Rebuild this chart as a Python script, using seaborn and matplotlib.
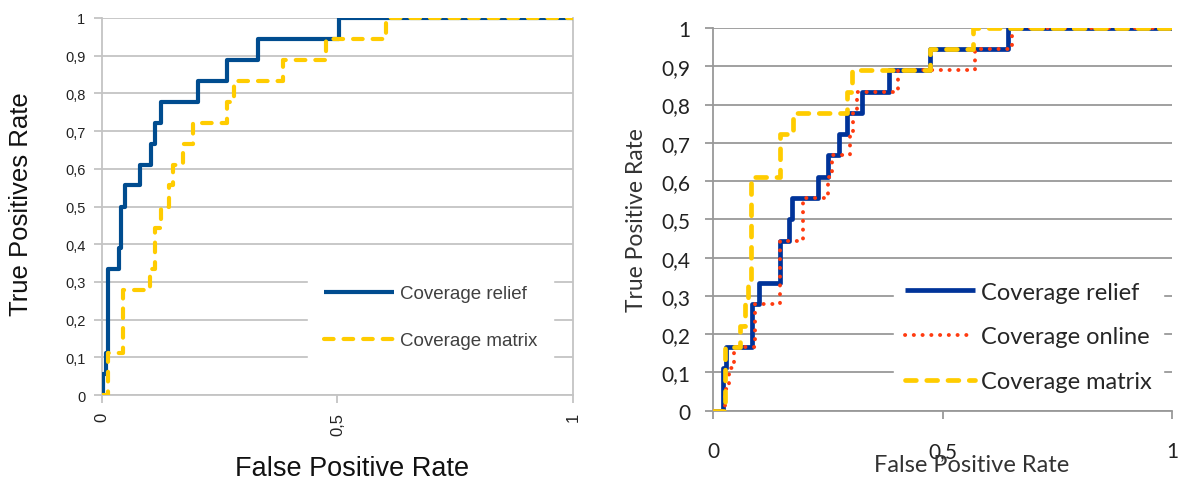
import numpy as np
import pandas as pd
import matplotlib
matplotlib.use('Agg')
import matplotlib.pyplot as plt
import seaborn as sns
from matplotlib.ticker import FuncFormatter

# ==========================================
# 0. データ（図から読み取った ROC 曲線の角の座標）
# ==========================================
# 左: Coverage relief / Coverage matrix
left_relief_fpr = [0, 0.003, 0.008, 0.013, 0.037, 0.040, 0.049, 0.081, 0.105,
                   0.113, 0.125, 0.205, 0.265, 0.332, 0.504, 1.0]
left_relief_tpr = [0, 0.056, 0.111, 0.333, 0.389, 0.500, 0.556, 0.611, 0.667,
                   0.722, 0.778, 0.833, 0.889, 0.944, 1.0, 1.0]

left_matrix_fpr = [0, 0.013, 0.045, 0.103, 0.113, 0.125, 0.143, 0.151, 0.173,
                   0.194, 0.266, 0.280, 0.384, 0.476, 0.604, 1.0]
left_matrix_tpr = [0, 0.111, 0.278, 0.333, 0.444, 0.500, 0.556, 0.611, 0.667,
                   0.722, 0.778, 0.833, 0.889, 0.944, 1.0, 1.0]

# 右: Coverage relief / Coverage online / Coverage matrix
right_relief_fpr = [0, 0.022, 0.028, 0.084, 0.100, 0.145, 0.164, 0.171, 0.229,
                    0.249, 0.273, 0.291, 0.323, 0.382, 0.472, 0.643, 1.0]
right_relief_tpr = [0, 0.111, 0.167, 0.278, 0.333, 0.444, 0.500, 0.556, 0.611,
                    0.667, 0.722, 0.778, 0.833, 0.889, 0.944, 1.0, 1.0]

right_online_fpr = [0, 0.025, 0.035, 0.045, 0.091, 0.145, 0.196, 0.251, 0.258,
                    0.298, 0.305, 0.313, 0.403, 0.571, 0.651, 1.0]
right_online_tpr = [0, 0.056, 0.111, 0.167, 0.278, 0.444, 0.556, 0.611, 0.667,
                    0.722, 0.778, 0.833, 0.889, 0.944, 1.0, 1.0]

right_matrix_fpr = [0, 0.025, 0.057, 0.069, 0.076, 0.081, 0.145, 0.174, 0.291,
                    0.302, 0.472, 0.567, 1.0]
right_matrix_tpr = [0, 0.167, 0.222, 0.278, 0.333, 0.611, 0.722, 0.778, 0.833,
                    0.889, 0.944, 1.0, 1.0]

y_ticks = np.round(np.arange(0, 1.01, 0.1), 1)
x_ticks = [0, 0.5, 1]

# ==========================================
# 1. スタイル
# ==========================================
sns.set_theme(style='white')
plt.rcParams['font.family'] = ['Liberation Sans', 'DejaVu Sans']

BLUE_L = '#004C8F'
BLUE_R = '#003399'
YELLOW = '#FFCC00'
RED = '#FF3B10'

comma_fmt = FuncFormatter(lambda v, pos: ('%g' % round(v, 2)).replace('.', ','))

fig = plt.figure(figsize=(11.84, 4.81), dpi=100)
ax_l = fig.add_axes([0.0861, 0.1767, 0.3978, 0.7838])
ax_r = fig.add_axes([0.6025, 0.1441, 0.3874, 0.7956])


def step_line(ax, fpr, tpr, color, label, lw, ls='-'):
    df = pd.DataFrame({'fpr': fpr, 'tpr': tpr})
    sns.lineplot(data=df, x='fpr', y='tpr', ax=ax, sort=False, estimator=None,
                 color=color, lw=lw, label=label, drawstyle='steps-post',
                 linestyle=ls, dash_capstyle='round', solid_capstyle='butt',
                 zorder=3)


def style_axes(ax, grid_color, spine_color, font):
    ax.set_xlim(0, 1)
    ax.set_ylim(0, 1)
    ax.set_yticks(y_ticks)
    ax.set_xticks(x_ticks)
    ax.xaxis.set_major_formatter(comma_fmt)
    ax.yaxis.set_major_formatter(comma_fmt)
    ax.grid(axis='y', color=grid_color, lw=1.3)
    ax.set_axisbelow(True)
    for s in ['top', 'right']:
        ax.spines[s].set_visible(False)
    for s in ['left', 'bottom']:
        ax.spines[s].set_color(spine_color)
        ax.spines[s].set_linewidth(1.3)
    ax.tick_params(axis='both', direction='out', length=6, width=1.3,
                   color=spine_color, labelcolor='#222222',
                   left=True, bottom=True)
    for lab in ax.get_xticklabels() + ax.get_yticklabels():
        lab.set_family(font)


# ==========================================
# 2. 左パネル
# ==========================================
step_line(ax_l, left_relief_fpr, left_relief_tpr, BLUE_L, 'Coverage relief', 3.0)
step_line(ax_l, left_matrix_fpr, left_matrix_tpr, YELLOW, 'Coverage matrix', 3.0,
          ls=(0, (2.3, 2.4)))
style_axes(ax_l, '#C4C4C4', '#C4C4C4', ['Liberation Sans', 'DejaVu Sans'])
ax_l.spines['right'].set_visible(True)
ax_l.spines['right'].set_color('#C4C4C4')
ax_l.spines['right'].set_linewidth(1.3)
ax_l.tick_params(axis='x', labelrotation=90, pad=6, labelsize=12)
ax_l.tick_params(axis='y', pad=6, labelsize=10.5)
ax_l.set_xlabel('False Positive Rate', fontsize=19.5, color='#111111')
ax_l.xaxis.set_label_coords(0.53, -0.16)
ax_l.set_ylabel('True Positives Rate', fontsize=18.5, color='#111111')
ax_l.yaxis.set_label_coords(-0.146, 0.51)

leg_l = ax_l.legend(loc='upper left', bbox_to_anchor=(308 / 1184, 1 - 270 / 481),
                    bbox_transform=fig.transFigure, borderaxespad=0,
                    frameon=True, fancybox=False, framealpha=1,
                    facecolor='white', edgecolor='white',
                    fontsize=13.5, handlelength=3.75, handletextpad=0.3,
                    labelspacing=1.6, borderpad=0.85)
for t in leg_l.get_texts():
    t.set_color('#404040')
leg_l.set_zorder(5)

# ==========================================
# 3. 右パネル
# ==========================================
right_font = ['Lato', 'DejaVu Sans']
step_line(ax_r, right_relief_fpr, right_relief_tpr, BLUE_R, 'Coverage relief', 3.4)
step_line(ax_r, right_online_fpr, right_online_tpr, RED, 'Coverage online', 2.8,
          ls=(0, (0.05, 2.2)))
step_line(ax_r, right_matrix_fpr, right_matrix_tpr, YELLOW, 'Coverage matrix', 3.4,
          ls=(0, (2.3, 2.2)))
style_axes(ax_r, '#999999', '#999999', right_font)
ax_r.tick_params(axis='x', pad=16, labelsize=15)
ax_r.tick_params(axis='y', pad=10.5, labelsize=15)
ax_r.set_xlabel('False Positive Rate', fontsize=17, color='#333333',
                family=right_font)
ax_r.xaxis.set_label_coords(0.564, -0.113)
ax_r.set_ylabel('True Positive Rate', fontsize=16.4, color='#333333',
                family=right_font)
ax_r.yaxis.set_label_coords(-0.144, 0.5)

leg_r = ax_r.legend(loc='upper left', bbox_to_anchor=(894 / 1184, 1 - 272 / 481),
                    bbox_transform=fig.transFigure, borderaxespad=0,
                    frameon=True, fancybox=False, framealpha=1,
                    facecolor='white', edgecolor='white',
                    prop={'family': right_font, 'size': 17},
                    handlelength=3.0, handletextpad=0.25,
                    labelspacing=1.0, borderpad=0.45)
for t in leg_r.get_texts():
    t.set_color('#262626')
leg_r.set_zorder(5)

fig.savefig('out.png', dpi=100)
